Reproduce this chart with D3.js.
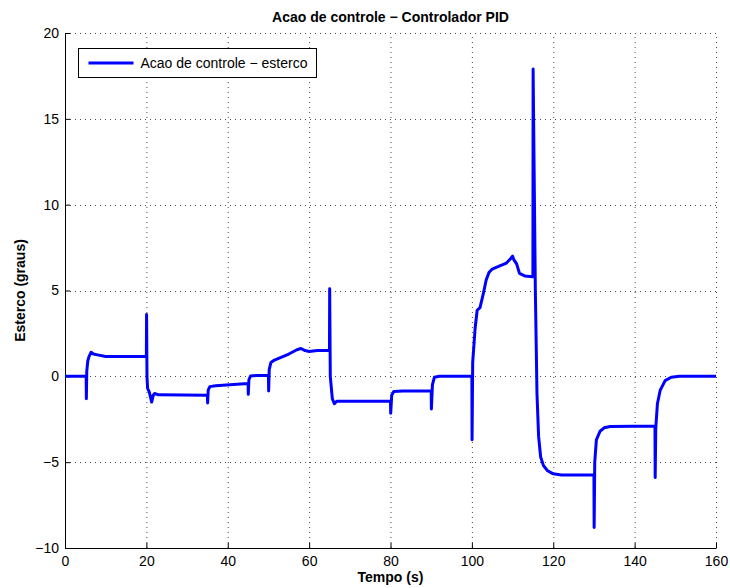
<!DOCTYPE html>
<html>
<head>
<meta charset="utf-8">
<script src="https://cdn.jsdelivr.net/npm/d3@7"></script>
<style>
  body { margin: 0; background: #fff; }
  svg { font-family: "Liberation Sans", Arial, sans-serif; }
</style>
</head>
<body>
<div id="chart"></div>
<script>
// data
var tempo = [0, 5.2, 5.25, 5.35, 5.6, 5.9, 6.4, 7, 8, 10, 14, 20,
  20.05, 20.15, 20.3, 20.7, 21, 21.3, 21.7, 22, 23, 35,
  35.05, 35.2, 35.6, 37, 45,
  45.05, 45.2, 45.6, 47, 50,
  50.05, 50.2, 50.6, 51.5, 52.5, 55, 57, 58, 59, 60, 62, 65,
  65.05, 65.2, 65.7, 66.2, 66.8, 70, 80,
  80.05, 80.3, 80.8, 83, 90,
  90.05, 90.3, 90.8, 92, 100,
  100.05, 100.2, 100.8, 101.3, 102, 102.8, 103.5, 104.2, 105, 107, 108.5, 109.5, 110, 110.3, 111, 111.7, 113, 115,
  115.05, 115.3, 115.6, 116, 116.4, 116.9, 117.6, 118.6, 120, 122, 130,
  130.05, 130.2, 130.6, 131.5, 132.5, 134, 145,
  145.05, 145.2, 145.6, 146.3, 147.5, 149, 151, 160];
var esterco = [0, 0, -1.3, 0.3, 0.9, 1.15, 1.4, 1.3, 1.25, 1.15, 1.15, 1.15,
  3.6, 0, -0.7, -0.9, -1.2, -1.5, -1.1, -1.0, -1.08, -1.1,
  -1.55, -0.8, -0.6, -0.55, -0.42,
  -1.05, -0.2, 0.02, 0.05, 0.05,
  -0.85, 0.4, 0.8, 0.95, 1.05, 1.3, 1.55, 1.62, 1.5, 1.45, 1.5, 1.5,
  5.1, 0, -1.3, -1.6, -1.45, -1.45, -1.45,
  -2.15, -1.1, -0.88, -0.85, -0.85,
  -1.9, -0.5, -0.05, 0, 0,
  -3.7, 0.8, 2.8, 3.85, 4.0, 4.8, 5.6, 6.05, 6.25, 6.45, 6.6, 6.85, 7.0, 6.8, 6.55, 6.0, 5.85, 5.8,
  17.9, 12, 5, -1, -3.5, -4.7, -5.2, -5.5, -5.68, -5.75, -5.75,
  -8.8, -5, -3.7, -3.2, -3.0, -2.92, -2.9,
  -5.9, -3.0, -1.6, -0.8, -0.25, -0.05, 0, 0];
var xTicks = [0, 20, 40, 60, 80, 100, 120, 140, 160];
var yTicks = [-10, -5, 0, 5, 10, 15, 20];

var w = 730, h = 588;
var margin = { left: 65, right: 14, top: 33, bottom: 40 };

var svg = d3.select("#chart").append("svg")
  .attr("width", w)
  .attr("height", h);

var x = d3.scaleLinear().domain([0, 160]).range([margin.left, w - margin.right]);
var y = d3.scaleLinear().domain([-10, 20]).range([h - margin.bottom, margin.top]);

// dotted grid
var grid = svg.append("g")
  .attr("stroke", "#000")
  .attr("stroke-width", 1)
  .attr("stroke-dasharray", "1,4")
  .attr("opacity", 0.7);
grid.selectAll(".gx").data(xTicks.slice(1)).enter().append("line")
  .attr("x1", d => x(d) + 0.5).attr("x2", d => x(d) + 0.5)
  .attr("y1", y(-10)).attr("y2", y(20));
grid.selectAll(".gy").data(yTicks.slice(1)).enter().append("line")
  .attr("y1", d => Math.round(y(d)) + 0.5).attr("y2", d => Math.round(y(d)) + 0.5)
  .attr("x1", x(0)).attr("x2", x(160));

// axes, ticks inside like matlab
var xAxis = svg.append("g")
  .attr("transform", "translate(0," + y(-10) + ")")
  .call(d3.axisBottom(x).tickValues(xTicks).tickSizeInner(-5).tickSizeOuter(0).tickPadding(8));
var yAxis = svg.append("g")
  .attr("transform", "translate(" + x(0) + ",0)")
  .call(d3.axisLeft(y).tickValues(yTicks).tickSizeInner(-5).tickSizeOuter(0).tickPadding(6)
    .tickFormat(d => d < 0 ? "\u2212" + Math.abs(d) : d));
[xAxis, yAxis].forEach(a => {
  a.selectAll("text").attr("font-size", 14).attr("fill", "#000")
    .attr("font-family", "Liberation Sans, Arial, sans-serif");
  a.selectAll("line, path").attr("stroke", "#000");
});

// the line
var line = d3.line()
  .x((d, i) => x(tempo[i]))
  .y((d, i) => y(esterco[i]));
svg.append("path")
  .datum(esterco)
  .attr("fill", "none")
  .attr("stroke", "#0000ff")
  .attr("stroke-width", 3)
  .attr("stroke-linejoin", "round")
  .attr("d", line);

// title and labels
svg.append("text")
  .attr("x", (x(0) + x(160)) / 2).attr("y", 22)
  .attr("text-anchor", "middle")
  .attr("font-size", 14).attr("font-weight", "bold")
  .text("Acao de controle \u2212 Controlador PID");
svg.append("text")
  .attr("x", (x(0) + x(160)) / 2).attr("y", 582)
  .attr("text-anchor", "middle")
  .attr("font-size", 14).attr("font-weight", "bold")
  .text("Tempo (s)");
svg.append("text")
  .attr("transform", "translate(25," + (y(-10) + y(20)) / 2 + ") rotate(-90)")
  .attr("text-anchor", "middle")
  .attr("font-size", 14).attr("font-weight", "bold")
  .text("Esterco (graus)");

// legend
var lg = svg.append("g").attr("transform", "translate(78.5,48.5)");
lg.append("rect")
  .attr("width", 238).attr("height", 29)
  .attr("fill", "#fff").attr("stroke", "#000").attr("stroke-width", 1);
lg.append("line")
  .attr("x1", 10).attr("x2", 55).attr("y1", 14.5).attr("y2", 14.5)
  .attr("stroke", "#0000ff").attr("stroke-width", 3);
lg.append("text")
  .attr("x", 62).attr("y", 19.5)
  .attr("font-size", 14)
  .text("Acao de controle \u2212 esterco");
</script>
</body>
</html>
